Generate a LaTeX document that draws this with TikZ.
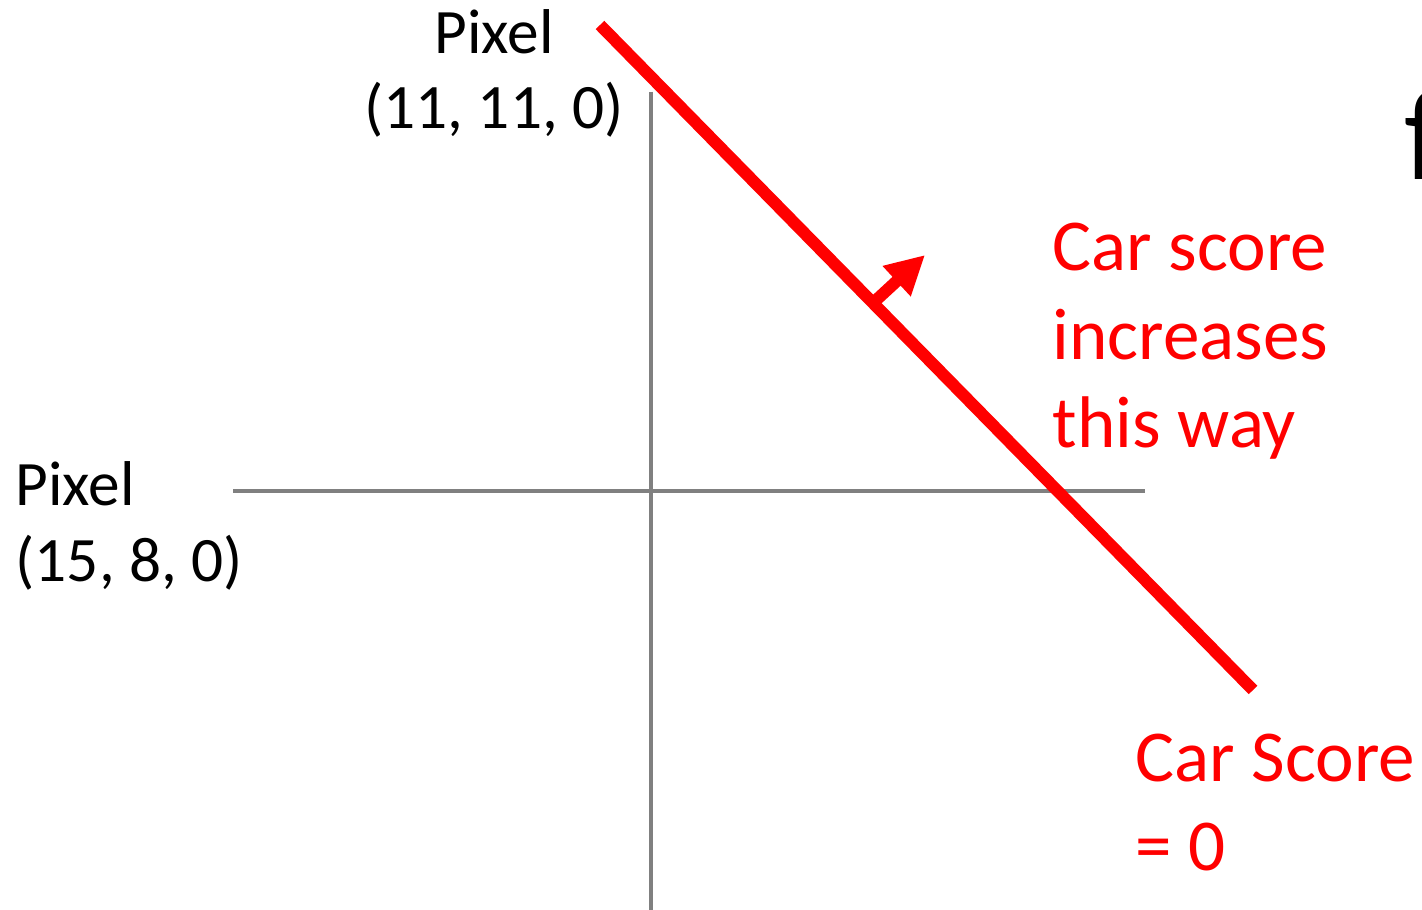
\documentclass[tikz,border=0pt]{standalone}
\usepackage{fontspec}
\setmainfont{Carlito}
\usetikzlibrary{arrows.meta}
\begin{document}
\begin{tikzpicture}[x=0.01cm,y=-0.01cm]
            \tikzset{axis/.style={draw=gray,line width=0.04cm},
                score/.style={draw=red,line width=0.12cm},
                lblk/.style={inner sep=0pt,font=\fontsize{18}{21.6}\selectfont},
                lred/.style={inner sep=0pt,text=red,align=left,anchor=base west,font=\fontsize{20.8}{25.2}\selectfont}}
            \useasboundingbox(0,0)rectangle(1422,910);
            \clip(0,0)rectangle(1422,910);
            %% truc toa do
            \coordinate(hL)at(233,491);\coordinate(hR)at(1145,491);
            \coordinate(vT)at(651,92);\coordinate(vB)at(651,912);
            \draw[axis](hL)--(hR);
            \draw[axis](vT)--(vB);
            %% duong Car Score = 0
            \coordinate(s1)at(600,25);\coordinate(s2)at(1253,690);
            \coordinate(d1)at(873,303);\coordinate(d2)at(925,255);
            \draw[score](s1)--(s2);
            \draw[score,-{Triangle[length=11pt,width=11pt]}](d1)--(d2);
            %% nhan (base = dong cuoi)
            \node[lblk,align=center,anchor=base](P1)at(494,129){Pixel\\(11, 11, 0)};
            \node[lblk,align=left,anchor=base west](P2)at(15,581){Pixel\\(15, 8, 0)};
            \node[lred](T1)at(1052,448){Car score\\increases\\this way};
            \node[lred](T2)at(1135,870){Car Score\\= 0};
            \node[inner sep=0pt,anchor=base west,font=\fontsize{37}{40}\selectfont](F)at(1404,180){f};
        \end{tikzpicture}
\end{document}
